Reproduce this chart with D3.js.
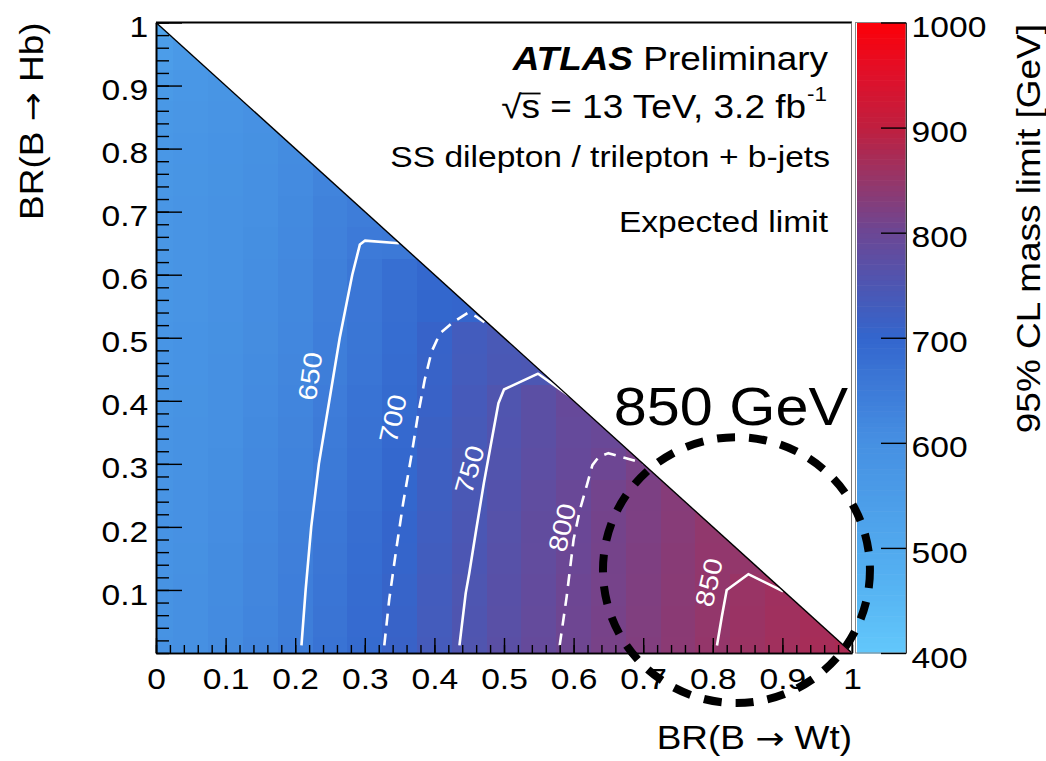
<!DOCTYPE html>
<html>
<head>
<meta charset="utf-8">
<script src="https://cdn.jsdelivr.net/npm/d3@7"></script>
<style>
  html, body { margin: 0; padding: 0; background: #fff; }
  svg { display: block; font-family: "Liberation Sans", Arial, Helvetica, sans-serif; }
</style>
</head>
<body>
<svg id="chart" width="1046" height="761"></svg>
<script>
// bin centres
const brWt = [0, 0.05, 0.1, 0.15, 0.2, 0.25, 0.3, 0.35, 0.4, 0.45, 0.5, 0.55, 0.6, 0.65, 0.7, 0.75, 0.8, 0.85, 0.9, 0.95, 1];
const brHb = [0, 0.05, 0.1, 0.15, 0.2, 0.25, 0.3, 0.35, 0.4, 0.45, 0.5, 0.55, 0.6, 0.65, 0.7, 0.75, 0.8, 0.85, 0.9, 0.95, 1];

// expected mass limit [GeV], one row per BR(B->Hb) bin, columns follow brWt
const limitRows = [
  [590, 600, 613, 628, 646, 668, 689, 711, 734, 755, 772, 790, 804, 815, 826, 838, 849, 857, 864, 870, 876],
  [589, 599, 612, 626, 644, 666, 687, 709, 732, 753, 770, 788, 803, 814, 825, 837, 848, 856, 863, 869],
  [588, 598, 610, 625, 642, 664, 685, 707, 730, 751, 769, 787, 802, 813, 824, 836, 847, 855, 862],
  [587, 596, 609, 623, 640, 662, 683, 704, 727, 749, 767, 785, 800, 812, 823, 835, 846, 848],
  [586, 595, 607, 621, 638, 659, 680, 702, 725, 747, 765, 784, 799, 811, 821, 833, 845],
  [584, 594, 605, 619, 635, 656, 677, 698, 722, 744, 762, 781, 797, 809, 820, 832],
  [583, 592, 603, 616, 632, 653, 674, 695, 719, 742, 758, 776, 792, 802, 815],
  [582, 590, 601, 614, 629, 650, 671, 692, 716, 739, 756, 774, 790, 797],
  [580, 589, 599, 612, 626, 647, 668, 689, 712, 736, 755, 774, 792],
  [579, 587, 598, 610, 624, 644, 665, 686, 710, 732, 745, 748],
  [578, 586, 596, 608, 622, 642, 663, 684, 708, 730, 742],
  [577, 585, 595, 607, 620, 640, 661, 682, 698, 702],
  [576, 584, 593, 605, 618, 638, 659, 678, 695],
  [575, 583, 592, 603, 616, 636, 652, 655],
  [574, 582, 590, 601, 614, 633, 645],
  [572, 580, 588, 599, 611, 628],
  [570, 578, 586, 597, 609],
  [566, 575, 584, 594],
  [558, 570, 580],
  [545, 562],
  [520]
];

// contour lines, [BR(Wt), BR(Hb)]
const contour650 = [[0.209, 0.012], [0.215, 0.1], [0.223, 0.2], [0.234, 0.3], [0.249, 0.4], [0.264, 0.5], [0.282, 0.6], [0.293, 0.648], [0.300, 0.654], [0.349, 0.650]];
const contour700 = [[0.328, 0.012], [0.335, 0.084], [0.345, 0.163], [0.355, 0.237], [0.368, 0.320], [0.376, 0.375], [0.386, 0.433], [0.396, 0.478], [0.408, 0.507], [0.427, 0.525], [0.449, 0.540], [0.461, 0.533], [0.480, 0.518]];
const contour750 = [[0.436, 0.012], [0.445, 0.095], [0.450, 0.126], [0.460, 0.195], [0.471, 0.269], [0.481, 0.330], [0.492, 0.396], [0.500, 0.418], [0.549, 0.443], [0.595, 0.407]];
const contour800 = [[0.580, 0.012], [0.590, 0.089], [0.600, 0.180], [0.609, 0.227], [0.619, 0.266], [0.627, 0.298], [0.636, 0.311], [0.650, 0.317], [0.700, 0.301]];
const contour850 = [[0.806, 0.012], [0.813, 0.058], [0.820, 0.100], [0.851, 0.125], [0.901, 0.098]];

const contourLevels = [650, 700, 750, 800, 850];
const contourPoints = [contour650, contour700, contour750, contour800, contour850];
const contourLabelAt = [[0.221, 0.439], [0.340, 0.372], [0.450, 0.291], [0.583, 0.199], [0.794, 0.112]];

// palette
const paletteValues = [400, 450, 500, 550, 600, 650, 700, 750, 800, 850, 900, 950, 1000];
const paletteColors = ['#62c8fb', '#58b7f4', '#51a9ee', '#4b9ce8', '#4690e2', '#3d7bd8', '#3366cd', '#4d56b2', '#6b4795', '#953669', '#bf1f3f', '#e0102a', '#fc0008'];

const xMajor = [0, 0.1, 0.2, 0.3, 0.4, 0.5, 0.6, 0.7, 0.8, 0.9, 1];
const yMajor = [0.1, 0.2, 0.3, 0.4, 0.5, 0.6, 0.7, 0.8, 0.9, 1];
const zTicks = [400, 500, 600, 700, 800, 900, 1000];

// annotation circle
const circleCentre = [0.834, 0.1315];
const circleRadius = [0.1918, 0.2108];

//-----------------------------------------------------------------------------

const svg = d3.select("#chart");
const SX = 1.12; // text is a bit wider than Liberation Sans

const frame = {left: 156, right: 852, top: 22.5, bottom: 653};

const x = d3.scaleLinear().domain([0, 1]).range([frame.left, frame.right]);
const y = d3.scaleLinear().domain([0, 1]).range([frame.bottom, frame.top]);
const z = d3.scaleLinear().domain([400, 1000]).range([frame.bottom, frame.top]);
const color = d3.scaleLinear().domain(paletteValues).range(paletteColors).clamp(true);

svg.append("defs").append("clipPath").attr("id", "frameClip")
  .append("rect")
  .attr("x", frame.left).attr("y", frame.top)
  .attr("width", frame.right - frame.left).attr("height", frame.bottom - frame.top);

const plot = svg.append("g").attr("clip-path", "url(#frameClip)");

// cells
const cells = [];
limitRows.forEach((row, k) => {
  row.forEach((v, i) => cells.push({wt: brWt[i], hb: brHb[k], v: v}));
});
const half = 0.025;
plot.selectAll("rect.cell")
  .data(cells)
  .enter().append("rect")
  .attr("class", "cell")
  .attr("x", d => x(d.wt - half))
  .attr("y", d => y(d.hb + half))
  .attr("width", d => x(d.wt + half) - x(d.wt - half))
  .attr("height", d => y(d.hb - half) - y(d.hb + half))
  .attr("fill", d => color(d.v))
  .attr("shape-rendering", "crispEdges");

// empty upper triangle
plot.append("path")
  .attr("d", d3.line()([[x(0), y(1)], [x(1), y(1)], [x(1), y(0)]]) + "Z")
  .attr("fill", "#fff");

// contours
const line = d3.line().x(d => x(d[0])).y(d => y(d[1]));
contourPoints.forEach((pts, i) => {
  plot.append("path")
    .attr("d", line(pts))
    .attr("fill", "none")
    .attr("stroke", "#fff")
    .attr("stroke-width", 2.6)
    .attr("stroke-linejoin", "round")
    .attr("stroke-dasharray", i % 2 === 1 ? "12,8" : null);
});

const labelAngles = [-82, -77, -74, -77, -77];
contourLevels.forEach((lv, i) => {
  const p = contourLabelAt[i];
  plot.append("text")
    .attr("transform", `translate(${x(p[0])},${y(p[1])}) rotate(${labelAngles[i]}) scale(${SX},1)`)
    .attr("text-anchor", "middle")
    .attr("dy", "0.36em")
    .attr("fill", "#fff")
    .attr("font-size", 26)
    .text(lv);
});

// diagonal
svg.append("line")
  .attr("x1", x(0)).attr("y1", y(1))
  .attr("x2", x(1)).attr("y2", y(0))
  .attr("stroke", "#000").attr("stroke-width", 1.4);

// frame top / right
svg.append("line")
  .attr("x1", frame.left).attr("x2", frame.right)
  .attr("y1", frame.top).attr("y2", frame.top)
  .attr("stroke", "#000").attr("stroke-width", 2);
svg.append("line")
  .attr("x1", frame.right - 0.5).attr("x2", frame.right - 0.5)
  .attr("y1", frame.top).attr("y2", frame.bottom)
  .attr("stroke", "#777").attr("stroke-width", 1);

// axes
const minorX = d3.range(0, 1.0001, 0.02);
const xMinorAxis = svg.append("g")
  .attr("transform", `translate(0,${frame.bottom})`)
  .call(d3.axisBottom(x).tickValues(minorX).tickSize(-8).tickSizeOuter(0).tickFormat(""));
const xAxis = svg.append("g")
  .attr("transform", `translate(0,${frame.bottom})`)
  .call(d3.axisBottom(x).tickValues(xMajor).tickSize(-15).tickSizeOuter(0).tickPadding(15)
    .tickFormat(d => d3.format("~g")(d)));

const minorY = d3.range(0, 1.0001, 0.02);
const yMinorAxis = svg.append("g")
  .attr("transform", `translate(${frame.left},0)`)
  .call(d3.axisLeft(y).tickValues(minorY).tickSize(-13).tickSizeOuter(0).tickFormat(""));
const yAxis = svg.append("g")
  .attr("transform", `translate(${frame.left},0)`)
  .call(d3.axisLeft(y).tickValues(yMajor).tickSize(-26).tickSizeOuter(0).tickPadding(7)
    .tickFormat(d => d3.format("~g")(d)));

[xMinorAxis, xAxis, yMinorAxis, yAxis].forEach(a => {
  a.attr("font-family", null);
  a.selectAll("line").attr("stroke", "#000").attr("stroke-width", 1.4);
  a.select(".domain").attr("stroke", "#000").attr("stroke-width", 1.6);
});
xAxis.selectAll("text")
  .attr("font-size", 30).attr("fill", "#000")
  .attr("transform", `scale(${SX},1)`);
yAxis.selectAll("text")
  .attr("font-size", 30).attr("fill", "#000")
  .attr("dy", "0.47em")
  .attr("transform", `scale(${SX},1)`);

// text helper, stretched a little in the reading direction
function stretched(tx, ty, rot, size, anchor, txt) {
  return svg.append("text")
    .attr("transform", `translate(${tx},${ty}) rotate(${rot}) scale(${SX},1)`)
    .attr("text-anchor", anchor)
    .attr("font-size", size)
    .attr("fill", "#000")
    .text(txt);
}

// axis titles with a proper arrow glyph
function arrowTitle(tx, ty, rot, left, right) {
  const t = stretched(tx, ty, rot, 33, "end", "");
  t.append("tspan").text(left + " ");
  t.append("tspan").attr("font-family", "DejaVu Sans").attr("font-size", 31).text("\u2192");
  t.append("tspan").text(" " + right);
  return t;
}
arrowTitle(frame.right, 749, 0, "BR(B", "Wt)");
arrowTitle(43, frame.top, -90, "BR(B", "Hb)");

// colour bar
const barX0 = 857, barX1 = 906;
const bar = svg.append("g");
const steps = d3.range(400, 1000, 5);
bar.selectAll("rect")
  .data(steps)
  .enter().append("rect")
  .attr("x", barX0)
  .attr("width", barX1 - barX0)
  .attr("y", d => z(d + 5))
  .attr("height", d => z(d) - z(d + 5) + 0.6)
  .attr("fill", d => color(d + 2.5));
svg.append("rect")
  .attr("x", barX0 - 1.5).attr("y", frame.top)
  .attr("width", barX1 - barX0 + 1.5).attr("height", frame.bottom - frame.top)
  .attr("fill", "none").attr("stroke", "#888").attr("stroke-width", 1);

const zAxis = svg.append("g")
  .attr("transform", `translate(${barX1},0)`)
  .call(d3.axisRight(z).tickValues(zTicks).tickSize(-25).tickSizeOuter(0).tickPadding(5)
    .tickFormat(d3.format("d")));
zAxis.attr("font-family", null);
zAxis.select(".domain").attr("stroke", "#333").attr("stroke-width", 1);
zAxis.selectAll("line").attr("stroke", "#000").attr("stroke-width", 1.4);
zAxis.selectAll("text")
  .attr("font-size", 30).attr("fill", "#000")
  .attr("dy", "0.47em")
  .attr("transform", `scale(${SX},1)`);

stretched(1040, 24, -90, 33, "end", "95% CL mass limit [GeV]");

// ATLAS labels
const atlas = svg.append("text")
  .attr("transform", `translate(828,70) scale(${SX},1)`)
  .attr("text-anchor", "end")
  .attr("font-size", 33);
atlas.append("tspan").attr("font-weight", "bold").attr("font-style", "italic").text("ATLAS");
atlas.append("tspan").text(" Preliminary");

const energyG = svg.append("g").attr("transform", `translate(806,118) scale(${SX},1)`);
const energy = energyG.append("text")
  .attr("text-anchor", "end")
  .attr("font-size", 33)
  .text("\u221As = 13 TeV, 3.2 fb");
svg.append("text")
  .attr("transform", `translate(807,101) scale(${SX},1)`)
  .attr("font-size", 20)
  .text("-1");
// bar over the s of the square root
const sNode = energy.node();
const s0 = sNode.getStartPositionOfChar(1).x;
const s1 = sNode.getEndPositionOfChar(1).x;
energyG.append("line")
  .attr("x1", s0 - 1).attr("x2", s1 + 0.5)
  .attr("y1", -24.5).attr("y2", -24.5)
  .attr("stroke", "#000").attr("stroke-width", 1.8);

stretched(830, 167, 0, 30, "end", "SS dilepton / trilepton + b-jets");
stretched(828, 232, 0, 30, "end", "Expected limit");
stretched(848, 425, 0, 53, "end", "850 GeV");

// dashed circle around the high Wt corner
svg.append("ellipse")
  .attr("cx", x(circleCentre[0]))
  .attr("cy", y(circleCentre[1]))
  .attr("rx", x(circleCentre[0] + circleRadius[0]) - x(circleCentre[0]))
  .attr("ry", y(circleCentre[1]) - y(circleCentre[1] + circleRadius[1]))
  .attr("fill", "none")
  .attr("stroke", "#000")
  .attr("stroke-width", 8)
  .attr("stroke-dasharray", "18,14");
</script>
</body>
</html>
